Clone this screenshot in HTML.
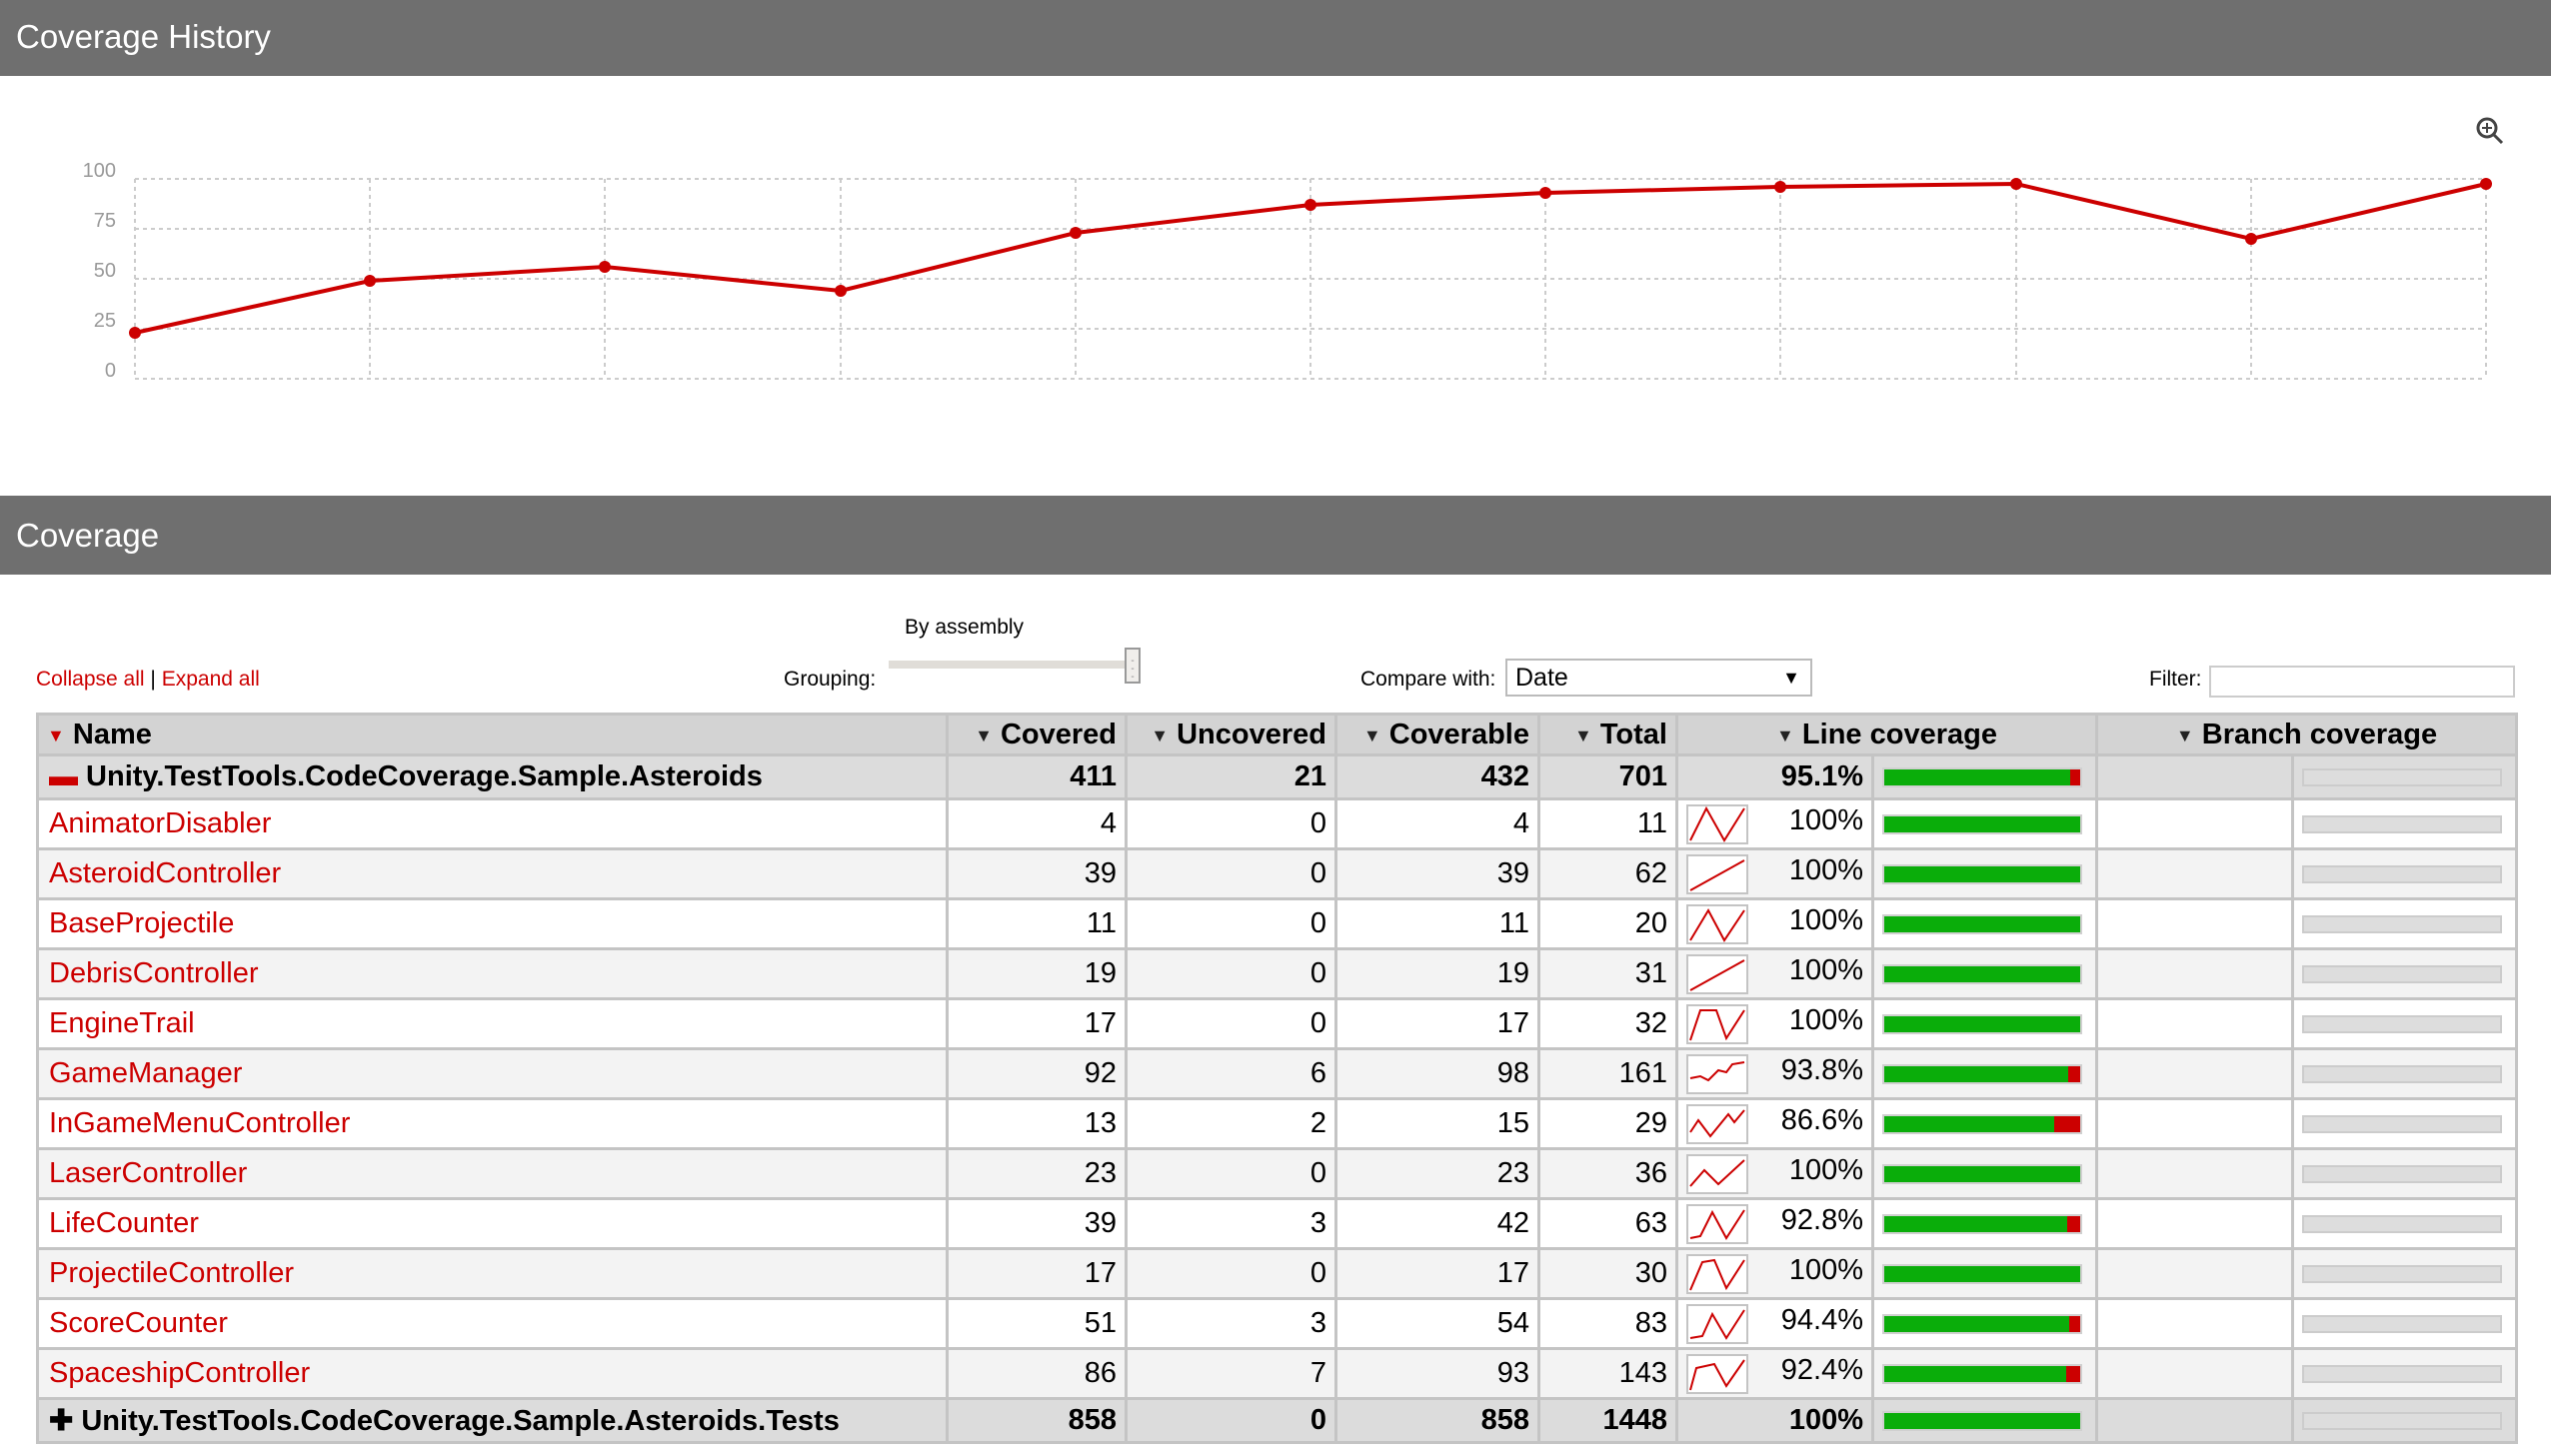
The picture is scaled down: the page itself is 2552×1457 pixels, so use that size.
<!DOCTYPE html>
<html><head><meta charset="utf-8"><style>
body{margin:0;width:2552px;height:1457px;overflow:hidden;background:#fff;font-family:"Liberation Sans",Arial,sans-serif;position:relative}
.hd{position:absolute;left:0;width:2552px;background:#6f6f6f;color:#fff;font-size:33px}
.abs{position:absolute}
table{position:absolute;left:36px;top:713px;border-collapse:collapse;table-layout:fixed;width:2480px;font-size:29px}
td,th{border:3px solid #c4c4c4;padding:0 8px;white-space:nowrap;overflow:hidden}
th{background:#d3d3d3;height:38px;font-weight:bold;text-align:right}
tr.g td{background:#dcdcdc;font-weight:bold;height:41px}
tr.r td{height:47px}
tr.r:nth-child(even) td{background:#f3f3f3}
td{text-align:right}
td.n{text-align:left;color:#c00;padding-left:10px}
tr.g td.n{color:#000}
.ar{font-size:18px;color:#222;vertical-align:middle}
.bar{display:inline-block;width:196px;height:16px;border:2px solid #d0d0d0;background:#0aad0a;position:relative;vertical-align:middle}
.bar i{position:absolute;right:0;top:0;height:16px;background:#c00}
.bb{display:inline-block;width:196px;height:14px;border:2px solid #ccc;background:#ddd;vertical-align:middle}
svg.sp{border:2px solid #c4c4c4;background:#fff;vertical-align:middle}
</style></head><body>
<div class="hd" style="top:0;height:76px;line-height:74px;padding-left:16px">Coverage History</div>
<svg class="abs" style="left:0;top:76px" width="2552" height="420">
<g stroke="#ccc" stroke-width="2" stroke-dasharray="4,4" fill="none">
<line x1="135" y1="103" x2="2487" y2="103"/><line x1="135" y1="153" x2="2487" y2="153"/><line x1="135" y1="203" x2="2487" y2="203"/><line x1="135" y1="253" x2="2487" y2="253"/><line x1="135" y1="303" x2="2487" y2="303"/>
<line x1="135" y1="103" x2="135" y2="303"/><line x1="370" y1="103" x2="370" y2="303"/><line x1="605" y1="103" x2="605" y2="303"/><line x1="841" y1="103" x2="841" y2="303"/><line x1="1076" y1="103" x2="1076" y2="303"/><line x1="1311" y1="103" x2="1311" y2="303"/><line x1="1546" y1="103" x2="1546" y2="303"/><line x1="1781" y1="103" x2="1781" y2="303"/><line x1="2017" y1="103" x2="2017" y2="303"/><line x1="2252" y1="103" x2="2252" y2="303"/><line x1="2487" y1="103" x2="2487" y2="303"/>
</g>
<g font-size="20" fill="#999" text-anchor="end" font-family="Liberation Sans,sans-serif">
<text x="116" y="101">100</text><text x="116" y="151">75</text><text x="116" y="201">50</text><text x="116" y="251">25</text><text x="116" y="301">0</text></g>
<polyline fill="none" stroke="#c00" stroke-width="4" points="135,257 370,205 605,191 841,215 1076,157 1311,129 1546,117 1781,111 2017,108 2252,163 2487,108"/>
<g fill="#c00"><circle cx="135" cy="257" r="6"/><circle cx="370" cy="205" r="6"/><circle cx="605" cy="191" r="6"/><circle cx="841" cy="215" r="6"/><circle cx="1076" cy="157" r="6"/><circle cx="1311" cy="129" r="6"/><circle cx="1546" cy="117" r="6"/><circle cx="1781" cy="111" r="6"/><circle cx="2017" cy="108" r="6"/><circle cx="2252" cy="163" r="6"/><circle cx="2487" cy="108" r="6"/></g>
<g stroke="#444" stroke-width="3" fill="none"><circle cx="2488" cy="52" r="9"/><line x1="2495" y1="59" x2="2503" y2="67"/><line x1="2483" y1="52" x2="2493" y2="52" stroke-width="2"/><line x1="2488" y1="47" x2="2488" y2="57" stroke-width="2"/></g>
</svg>
<div class="hd" style="top:496px;height:79px;line-height:79px;padding-left:16px">Coverage</div>
<div class="abs" style="left:905px;top:616px;font-size:21px">By assembly</div>
<div class="abs" style="left:36px;top:668px;font-size:21px;color:#c00">Collapse all <span style="color:#000">|</span> Expand all</div>
<div class="abs" style="left:784px;top:668px;font-size:21px">Grouping:</div>
<div class="abs" style="left:889px;top:661px;width:245px;height:8px;background:#e0ddd8"></div>
<div class="abs" style="left:1125px;top:648px;width:16px;height:36px;border:2px solid #999;background:#f0eeeb;font-size:10px;line-height:8px;text-align:center;color:#888;box-sizing:border-box;padding-top:8px">-<br>-<br>-</div>
<div class="abs" style="left:1361px;top:668px;font-size:21px">Compare with:</div>
<div class="abs" style="left:1506px;top:659px;width:307px;height:38px;border:2px solid #bbb;box-sizing:border-box;font-size:25px;line-height:34px;padding-left:8px">Date<span style="position:absolute;right:10px;font-size:18px">▼</span></div>
<div class="abs" style="left:2150px;top:668px;font-size:21px">Filter:</div>
<div class="abs" style="left:2210px;top:666px;width:306px;height:32px;border:2px solid #ccc;box-sizing:border-box"></div>
<table>
<colgroup><col style="width:910px"><col style="width:179px"><col style="width:210px"><col style="width:203px"><col style="width:138px"><col style="width:196px"><col style="width:224px"><col style="width:196px"><col style="width:224px"></colgroup>
<tr><th style="text-align:left"><span class="ar" style="color:#c00">▼</span> Name</th><th><span class="ar">▼</span> Covered</th><th><span class="ar">▼</span> Uncovered</th><th><span class="ar">▼</span> Coverable</th><th><span class="ar">▼</span> Total</th><th colspan="2" style="text-align:center"><span class="ar">▼</span> Line coverage</th><th colspan="2" style="text-align:center"><span class="ar">▼</span> Branch coverage</th></tr>
<tr class="g"><td class="n"><span style="color:#c00">▬</span> Unity.TestTools.CodeCoverage.Sample.Asteroids</td><td>411</td><td>21</td><td>432</td><td>701</td><td>95.1%</td><td style="text-align:left"><span class="bar"><i style="width:10px"></i></span></td><td></td><td style="text-align:left"><span class="bb"></span></td></tr>
<tr class="r"><td class="n">AnimatorDisabler</td><td>4</td><td>0</td><td>4</td><td>11</td><td style="position:relative"><svg class="sp" width="58" height="36" style="float:left"><polyline fill="none" stroke="#c00" stroke-width="2" points="2,34 18,2 36,34 56,2"/></svg>100%</td><td style="text-align:left"><span class="bar"></span></td><td></td><td style="text-align:left"><span class="bb"></span></td></tr>
<tr class="r"><td class="n">AsteroidController</td><td>39</td><td>0</td><td>39</td><td>62</td><td><svg class="sp" width="58" height="36" style="float:left"><polyline fill="none" stroke="#c00" stroke-width="2" points="2,34 56,4"/></svg>100%</td><td style="text-align:left"><span class="bar"></span></td><td></td><td style="text-align:left"><span class="bb"></span></td></tr>
<tr class="r"><td class="n">BaseProjectile</td><td>11</td><td>0</td><td>11</td><td>20</td><td><svg class="sp" width="58" height="36" style="float:left"><polyline fill="none" stroke="#c00" stroke-width="2" points="2,34 20,4 36,34 56,4"/></svg>100%</td><td style="text-align:left"><span class="bar"></span></td><td></td><td style="text-align:left"><span class="bb"></span></td></tr>
<tr class="r"><td class="n">DebrisController</td><td>19</td><td>0</td><td>19</td><td>31</td><td><svg class="sp" width="58" height="36" style="float:left"><polyline fill="none" stroke="#c00" stroke-width="2" points="2,34 56,4"/></svg>100%</td><td style="text-align:left"><span class="bar"></span></td><td></td><td style="text-align:left"><span class="bb"></span></td></tr>
<tr class="r"><td class="n">EngineTrail</td><td>17</td><td>0</td><td>17</td><td>32</td><td><svg class="sp" width="58" height="36" style="float:left"><polyline fill="none" stroke="#c00" stroke-width="2" points="2,34 12,4 28,4 38,32 56,4"/></svg>100%</td><td style="text-align:left"><span class="bar"></span></td><td></td><td style="text-align:left"><span class="bb"></span></td></tr>
<tr class="r"><td class="n">GameManager</td><td>92</td><td>6</td><td>98</td><td>161</td><td><svg class="sp" width="58" height="36" style="float:left"><polyline fill="none" stroke="#c00" stroke-width="2" points="2,22 12,20 20,24 30,14 38,16 44,8 56,6"/></svg>93.8%</td><td style="text-align:left"><span class="bar"><i style="width:12px"></i></span></td><td></td><td style="text-align:left"><span class="bb"></span></td></tr>
<tr class="r"><td class="n">InGameMenuController</td><td>13</td><td>2</td><td>15</td><td>29</td><td><svg class="sp" width="58" height="36" style="float:left"><polyline fill="none" stroke="#c00" stroke-width="2" points="2,26 10,14 22,30 40,8 46,16 56,4"/></svg>86.6%</td><td style="text-align:left"><span class="bar"><i style="width:26px"></i></span></td><td></td><td style="text-align:left"><span class="bb"></span></td></tr>
<tr class="r"><td class="n">LaserController</td><td>23</td><td>0</td><td>23</td><td>36</td><td><svg class="sp" width="58" height="36" style="float:left"><polyline fill="none" stroke="#c00" stroke-width="2" points="2,30 16,14 30,28 56,4"/></svg>100%</td><td style="text-align:left"><span class="bar"></span></td><td></td><td style="text-align:left"><span class="bb"></span></td></tr>
<tr class="r"><td class="n">LifeCounter</td><td>39</td><td>3</td><td>42</td><td>63</td><td><svg class="sp" width="58" height="36" style="float:left"><polyline fill="none" stroke="#c00" stroke-width="2" points="2,32 12,30 24,6 38,32 56,4"/></svg>92.8%</td><td style="text-align:left"><span class="bar"><i style="width:13px"></i></span></td><td></td><td style="text-align:left"><span class="bb"></span></td></tr>
<tr class="r"><td class="n">ProjectileController</td><td>17</td><td>0</td><td>17</td><td>30</td><td><svg class="sp" width="58" height="36" style="float:left"><polyline fill="none" stroke="#c00" stroke-width="2" points="2,34 14,6 26,4 38,32 56,4"/></svg>100%</td><td style="text-align:left"><span class="bar"></span></td><td></td><td style="text-align:left"><span class="bb"></span></td></tr>
<tr class="r"><td class="n">ScoreCounter</td><td>51</td><td>3</td><td>54</td><td>83</td><td><svg class="sp" width="58" height="36" style="float:left"><polyline fill="none" stroke="#c00" stroke-width="2" points="2,32 14,30 24,8 38,32 56,4"/></svg>94.4%</td><td style="text-align:left"><span class="bar"><i style="width:11px"></i></span></td><td></td><td style="text-align:left"><span class="bb"></span></td></tr>
<tr class="r"><td class="n">SpaceshipController</td><td>86</td><td>7</td><td>93</td><td>143</td><td><svg class="sp" width="58" height="36" style="float:left"><polyline fill="none" stroke="#c00" stroke-width="2" points="2,34 8,12 26,8 38,30 56,4"/></svg>92.4%</td><td style="text-align:left"><span class="bar"><i style="width:14px"></i></span></td><td></td><td style="text-align:left"><span class="bb"></span></td></tr>
<tr class="g"><td class="n">✚ Unity.TestTools.CodeCoverage.Sample.Asteroids.Tests</td><td>858</td><td>0</td><td>858</td><td>1448</td><td>100%</td><td style="text-align:left"><span class="bar"></span></td><td></td><td style="text-align:left"><span class="bb"></span></td></tr>
</table>
</body></html>
